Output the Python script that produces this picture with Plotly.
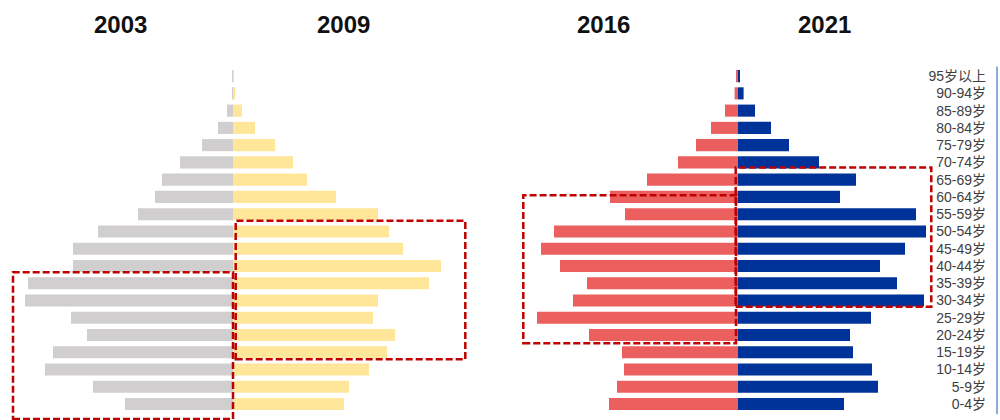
import plotly.graph_objects as go

ages = ["0-4岁", "5-9岁", "10-14岁", "15-19岁", "20-24岁", "25-29岁", "30-34岁",
        "35-39岁", "40-44岁", "45-49岁", "50-54岁", "55-59岁", "60-64岁", "65-69岁",
        "70-74岁", "75-79岁", "80-84岁", "85-89岁", "90-94岁", "95岁以上"]

pop_2003 = [108, 140, 188, 180, 146, 162, 208, 205, 160, 160, 135, 95, 78, 71, 53, 31, 15, 6, 1, 0.3]
pop_2009 = [111, 116, 136, 154, 162, 140, 145, 196, 208, 170, 156, 145, 103, 74, 60, 42, 22, 9, 2, 1]
pop_2016 = [129, 121, 114, 116, 149, 201, 165, 151, 178, 197, 184, 113, 128, 91, 60, 42, 27, 13, 3.4, 1.4]
pop_2021 = [106, 140, 134, 115, 112, 133, 186, 159, 142, 167, 188, 178, 102, 118, 81, 51, 33, 17, 5.6, 1.3]

years = ["2003", "2009", "2016", "2021"]
colors = {"2003": "#D0CECE", "2009": "#FFE699", "2016": "#EC5F5F", "2021": "#003399"}

fig = go.Figure()
bw = 0.7
fig.add_trace(go.Bar(y=ages, x=[-v for v in pop_2003], orientation="h", xaxis="x", yaxis="y",
                     marker=dict(color=colors["2003"], line=dict(width=0)), width=bw, name="2003"))
fig.add_trace(go.Bar(y=ages, x=pop_2009, orientation="h", xaxis="x", yaxis="y",
                     marker=dict(color=colors["2009"], line=dict(width=0)), width=bw, name="2009"))
fig.add_trace(go.Bar(y=ages, x=[-v for v in pop_2016], orientation="h", xaxis="x2", yaxis="y",
                     marker=dict(color=colors["2016"], line=dict(width=0)), width=bw, name="2016"))
fig.add_trace(go.Bar(y=ages, x=pop_2021, orientation="h", xaxis="x2", yaxis="y",
                     marker=dict(color=colors["2021"], line=dict(width=0)), width=bw, name="2021"))

red = "#C00000"
dash = "7px,3px"
boxes = [
    ("x", -220, 0, -0.87, 7.63),
    ("x2", -214.7, -2, 3.52, 12.09),
    ("x", 2.7, 232.3, 2.59, 10.62),
    ("x2", -2.3, 193.3, 5.64, 13.71),
]
shapes = []
for xr, x0, x1, y0, y1 in boxes:
    shapes.append(dict(type="rect", xref=xr, yref="y", x0=x0, x1=x1, y0=y0, y1=y1,
                       line=dict(color=red, width=2.5, dash=dash), fillcolor="rgba(0,0,0,0)",
                       layer="above"))
shapes.append(dict(type="line", xref="paper", yref="y", x0=0.997, x1=0.997, y0=-0.6, y1=19.55,
                   line=dict(color="#8EA9DB", width=2)))

title_pos = [("x", -113), ("x", 110), ("x2", -135), ("x2", 86)]
annotations = []
for yr, (xr, xv) in zip(years, title_pos):
    annotations.append(dict(text="<b>%s</b>" % yr, xref=xr, yref="paper", x=xv, y=1 - 24 / 420,
                            showarrow=False, xanchor="center", yanchor="middle",
                            font=dict(size=24, color="#111111", family="Liberation Sans, Arial")))

fig.update_layout(
    width=1000, height=420,
    margin=dict(l=0, r=0, t=0, b=0),
    paper_bgcolor="white", plot_bgcolor="white",
    barmode="overlay", showlegend=False,
    font=dict(family="Liberation Sans, Noto Sans CJK SC, sans-serif"),
    xaxis=dict(domain=[0, 0.5], range=[-233, 267], visible=False, anchor="y"),
    xaxis2=dict(domain=[0.5, 1], range=[-238, 262], visible=False, anchor="y"),
    yaxis=dict(type="category", categoryorder="array", categoryarray=ages,
               range=[-0.927, 23.41], domain=[0, 1], anchor="free", position=0.986, side="left",
               showgrid=False, zeroline=False, showline=False, ticks="",
               tickfont=dict(size=14, color="#404040",
                             family="Liberation Sans, Noto Sans CJK SC, sans-serif")),
    shapes=shapes, annotations=annotations,
)

fig.write_html("out.html", config={"displayModeBar": False},
               post_script="document.body.style.margin='0';")
